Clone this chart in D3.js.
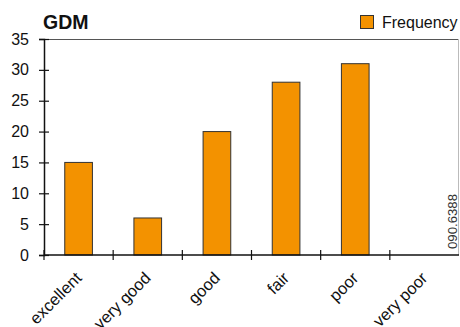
<!DOCTYPE html>
<html>
<head>
<meta charset="utf-8">
<script src="https://cdn.jsdelivr.net/npm/d3@7"></script>
<style>
  html, body { margin: 0; padding: 0; background: #fff; }
  svg { display: block; font-family: "Liberation Sans", Arial, sans-serif; }
</style>
</head>
<body>
<svg id="chart" width="460" height="327"></svg>
<script>
// Self-rated health categories and their frequencies
const categories = ["excellent", "very good", "good", "fair", "poor", "very poor"];
const frequency = [15, 6, 20, 28, 31, 0];
const yTicks = [0, 5, 10, 15, 20, 25, 30, 35];
const title = "GDM";
const seriesName = "Frequency";
const figureCode = "090.6388";

const svg = d3.select("#chart");
const margin = { left: 44, right: 1, top: 39, bottom: 72 };
const W = 460, H = 327;
const x0 = margin.left, x1 = W - margin.right;
const y0 = H - margin.bottom, y1 = margin.top;

const x = d3.scaleBand().domain(categories).range([x0, x1]).paddingInner(0.6).paddingOuter(0.3);
const xb = d3.scaleBand().domain(categories).range([x0, x1]).padding(0);
const y = d3.scaleLinear().domain([0, 35]).range([y0, y1]);

// plot frame: top and right edges
svg.append("line").attr("x1", x0).attr("x2", x1).attr("y1", y1 + 0.5).attr("y2", y1 + 0.5)
  .attr("stroke", "#555").attr("stroke-width", 1.2);
svg.append("line").attr("x1", x1 - 0.5).attr("x2", x1 - 0.5).attr("y1", y1).attr("y2", y0)
  .attr("stroke", "#bbb").attr("stroke-width", 1);

// bars
svg.append("g").selectAll("rect").data(categories).join("rect")
  .attr("x", d => x(d))
  .attr("width", x.bandwidth())
  .attr("y", (d, i) => y(frequency[i]))
  .attr("height", (d, i) => y(0) - y(frequency[i]))
  .attr("fill", "#F39200")
  .attr("stroke", "#333")
  .attr("stroke-width", 1);

// y axis
const yAxis = svg.append("g").attr("transform", `translate(${x0},0)`)
  .call(d3.axisLeft(y).tickValues(yTicks).tickSize(5).tickPadding(10));
yAxis.select(".domain").attr("stroke", "#111").attr("stroke-width", 1.5);
yAxis.selectAll(".tick line").clone().attr("x2", 5);
yAxis.selectAll(".tick line").attr("stroke", "#111").attr("stroke-width", 1.2);
yAxis.selectAll("text").attr("font-size", 16).attr("fill", "#111")
  .attr("font-family", "Liberation Sans, Arial, sans-serif");

// x axis: ticks at category boundaries
const bounds = categories.map(c => xb(c));
const xAxis = svg.append("g");
xAxis.append("line").attr("x1", x0).attr("x2", x1).attr("y1", y0).attr("y2", y0)
  .attr("stroke", "#111").attr("stroke-width", 1.5);
xAxis.selectAll("line.tk").data(bounds).join("line").attr("class", "tk")
  .attr("x1", d => d).attr("x2", d => d).attr("y1", y0 - 5).attr("y2", y0 + 5)
  .attr("stroke", "#111").attr("stroke-width", 1.2);
xAxis.selectAll("text").data(categories).join("text")
  .attr("transform", d => `translate(${xb(d) + xb.bandwidth() / 2},${y0 + 20}) rotate(-45)`)
  .attr("text-anchor", "end")
  .attr("dy", "0.35em")
  .attr("font-size", 16.5)
  .attr("fill", "#111")
  .text(d => d);

// title
svg.append("text").attr("x", 43).attr("y", 29).attr("font-size", 19.5).attr("font-weight", "bold")
  .attr("fill", "#111").text(title);

// legend
svg.append("rect").attr("x", 360.5).attr("y", 15.5).attr("width", 13).attr("height", 13)
  .attr("fill", "#F39200").attr("stroke", "#333");
svg.append("text").attr("x", 382).attr("y", 28).attr("font-size", 16).attr("fill", "#111")
  .text(seriesName);

// figure code
svg.append("text").attr("transform", `translate(457,249) rotate(-90)`)
  .attr("font-size", 13).attr("fill", "#333")
  .attr("textLength", 55).attr("lengthAdjust", "spacingAndGlyphs")
  .text(figureCode);
</script>
</body>
</html>
